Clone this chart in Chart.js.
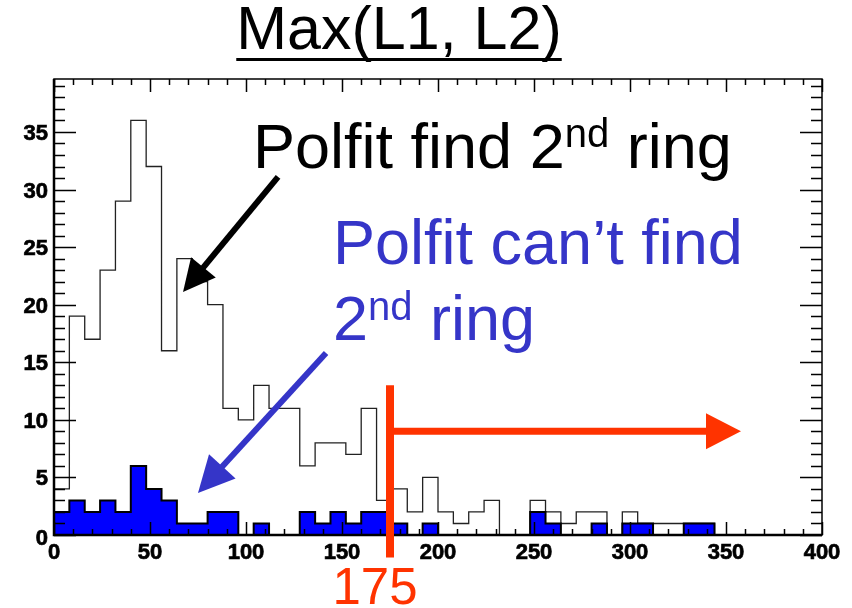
<!DOCTYPE html>
<html>
<head>
<meta charset="utf-8">
<title>Max(L1, L2)</title>
<script src="https://cdn.jsdelivr.net/npm/chart.js@4.4.1/dist/chart.umd.min.js"></script>
<style>
  html, body { margin: 0; padding: 0; background: #fff; }
  #wrap { width: 852px; height: 608px; }
</style>
</head>
<body>
<div id="wrap"><canvas id="hist" width="852" height="608"></canvas></div>
<script>
// 50 bins of width 8 between 0 and 400
const binWidth = 8;
const nBins = 50;

// all events (open histogram)
const allCounts = [4, 19, 17, 23, 29, 36, 32, 16, 24, 22,
                   20, 11, 10, 13, 11, 11, 6, 8, 8, 7,
                   11, 3, 4, 2, 5, 2, 1, 2, 3, 0,
                   0, 3, 2, 1, 2, 2, 0, 2, 1, 1,
                   1, 1, 1, 0, 0, 0, 0, 0, 0, 0];

// events where Polfit can't find the 2nd ring (blue filled)
const failCounts = [2, 3, 2, 3, 2, 6, 4, 3, 1, 1,
                    2, 2, 0, 1, 0, 0, 2, 1, 2, 1,
                    2, 2, 1, 0, 1, 0, 0, 0, 0, 0,
                    0, 2, 1, 0, 0, 1, 0, 1, 1, 0,
                    0, 1, 1, 0, 0, 0, 0, 0, 0, 0];

const xTickLabels = [0, 50, 100, 150, 200, 250, 300, 350, 400];
const yTickLabels = [0, 5, 10, 15, 20, 25, 30, 35];
const yMax = 39.6;
const cutValue = 175;

const FONT = '"Liberation Sans", Arial, Helvetica, sans-serif';
const BLUE_TEXT = '#3535c8';
const RED = '#ff3300';

// turn bin counts into points for a stepped outline
function stepPoints(counts) {
  const pts = counts.map((c, i) => ({ x: i * binWidth, y: c }));
  pts.push({ x: nBins * binWidth, y: counts[nBins - 1] });
  return pts;
}

function drawArrow(ctx, x1, y1, x2, y2, width, headLen, headHalf, color) {
  const ang = Math.atan2(y2 - y1, x2 - x1);
  const bx = x2 - headLen * Math.cos(ang);
  const by = y2 - headLen * Math.sin(ang);
  ctx.strokeStyle = color;
  ctx.fillStyle = color;
  ctx.lineWidth = width;
  ctx.lineCap = 'butt';
  ctx.beginPath();
  ctx.moveTo(x1, y1);
  ctx.lineTo(bx + Math.cos(ang), by + Math.sin(ang));
  ctx.stroke();
  ctx.beginPath();
  ctx.moveTo(x2, y2);
  ctx.lineTo(bx + headHalf * Math.sin(ang), by - headHalf * Math.cos(ang));
  ctx.lineTo(bx - headHalf * Math.sin(ang), by + headHalf * Math.cos(ang));
  ctx.closePath();
  ctx.fill();
}

// text with a superscript piece, e.g. 2^nd
function drawParts(ctx, parts, x, y, color) {
  ctx.fillStyle = color;
  ctx.textAlign = 'left';
  ctx.textBaseline = 'alphabetic';
  let cx = x;
  parts.forEach(p => {
    ctx.font = p.size + 'px ' + FONT;
    ctx.fillText(p.t, cx, y + (p.dy || 0));
    cx += ctx.measureText(p.t).width;
  });
}

// ROOT style frame, inner ticks and labels
const rootFrame = {
  id: 'rootFrame',
  afterDatasetsDraw(chart) {
    const { ctx, chartArea: a, scales: { x, y } } = chart;
    ctx.save();
    ctx.strokeStyle = '#000';
    ctx.lineWidth = 1.5;
    ctx.beginPath();
    for (let v = 0; v < yMax; v++) {
      const py = Math.round(y.getPixelForValue(v)) + 0.5;
      const len = v % 5 === 0 ? 22 : 11;
      ctx.moveTo(a.left, py); ctx.lineTo(a.left + len, py);
      ctx.moveTo(a.right, py); ctx.lineTo(a.right - len, py);
    }
    for (let v = 0; v <= 400; v += 10) {
      const px = Math.round(x.getPixelForValue(v)) + 0.5;
      const len = v % 50 === 0 ? 13 : 6;
      ctx.moveTo(px, a.bottom); ctx.lineTo(px, a.bottom - len);
      ctx.moveTo(px, a.top); ctx.lineTo(px, a.top + len);
    }
    ctx.stroke();

    // frame
    ctx.lineWidth = 1.5;
    ctx.strokeRect(a.left, a.top, a.right - a.left, a.bottom - a.top);
    ctx.lineWidth = 2.5;
    ctx.beginPath();
    ctx.moveTo(a.left, a.top); ctx.lineTo(a.left, a.bottom); ctx.lineTo(a.right, a.bottom);
    ctx.stroke();

    // tick labels (a thin stroke makes them as heavy as the ROOT bold face)
    ctx.fillStyle = '#000';
    ctx.strokeStyle = '#000';
    ctx.lineWidth = 0.7;
    ctx.font = 'bold 22px ' + FONT;
    ctx.textBaseline = 'alphabetic';
    ctx.textAlign = 'right';
    yTickLabels.forEach(v => {
      const py = y.getPixelForValue(v) + 8 + (v === 0 ? 2 : 0);
      ctx.fillText(String(v), a.left - 6, py);
      ctx.strokeText(String(v), a.left - 6, py);
    });
    ctx.textAlign = 'center';
    xTickLabels.forEach(v => {
      ctx.fillText(String(v), x.getPixelForValue(v), a.bottom + 24);
      ctx.strokeText(String(v), x.getPixelForValue(v), a.bottom + 24);
    });
    ctx.restore();
  },
  afterDraw(chart) {
    const { ctx, scales: { x, y } } = chart;
    ctx.save();

    // title with underline
    ctx.font = '61px ' + FONT;
    ctx.fillStyle = '#000';
    ctx.textAlign = 'left';
    ctx.textBaseline = 'alphabetic';
    const title = 'Max(L1, L2)';
    const tw = ctx.measureText(title).width;
    const tx = 399 - tw / 2;
    ctx.fillText(title, tx, 49);
    ctx.fillRect(tx, 58, tw, 3);

    // black annotation
    drawParts(ctx, [
      { t: 'Polfit find 2', size: 63 },
      { t: 'nd', size: 40, dy: -21 },
      { t: ' ring', size: 63 }
    ], 253, 168, '#000');
    drawArrow(ctx, x.getPixelForValue(116.7), y.getPixelForValue(31.1),
              x.getPixelForValue(67.2), y.getPixelForValue(21.1), 6, 32, 16, '#000');

    // blue annotation
    drawParts(ctx, [{ t: 'Polfit can\u2019t find', size: 63 }], 333, 264, BLUE_TEXT);
    drawParts(ctx, [
      { t: '2', size: 63 },
      { t: 'nd', size: 40, dy: -20 },
      { t: ' ring', size: 63 }
    ], 333, 340, BLUE_TEXT);
    drawArrow(ctx, x.getPixelForValue(141.7), y.getPixelForValue(15.8),
              x.getPixelForValue(75), y.getPixelForValue(3.65), 6, 36, 18, BLUE_TEXT);

    // cut marker at 175
    const cx = x.getPixelForValue(cutValue);
    ctx.strokeStyle = RED;
    ctx.lineWidth = 8;
    ctx.beginPath();
    ctx.moveTo(cx, y.getPixelForValue(13));
    ctx.lineTo(cx, y.getPixelForValue(-1.95));
    ctx.stroke();
    drawArrow(ctx, cx, y.getPixelForValue(9), x.getPixelForValue(357.8), y.getPixelForValue(9),
              7, 35, 18, RED);
    ctx.font = '51px ' + FONT;
    ctx.fillStyle = RED;
    ctx.textAlign = 'center';
    ctx.fillText(String(cutValue), cx - 15, 604);

    ctx.restore();
  }
};

new Chart(document.getElementById('hist'), {
  type: 'line',
  data: {
    datasets: [
      {
        label: "Polfit can't find 2nd ring",
        data: stepPoints(failCounts),
        stepped: true,
        fill: 'origin',
        backgroundColor: '#0000ff',
        borderColor: '#000',
        borderWidth: 2,
        pointRadius: 0,
        order: 0
      },
      {
        label: 'all',
        data: stepPoints(allCounts),
        stepped: true,
        fill: false,
        borderColor: '#222',
        borderWidth: 1.3,
        pointRadius: 0,
        order: 1
      }
    ]
  },
  options: {
    responsive: false,
    animation: false,
    devicePixelRatio: 1,
    layout: { padding: { left: 54, right: 30, top: 79, bottom: 73 } },
    plugins: {
      legend: { display: false },
      tooltip: { enabled: false },
      title: { display: false }
    },
    scales: {
      x: { type: 'linear', min: 0, max: 400, display: false },
      y: { type: 'linear', min: 0, max: yMax, display: false }
    }
  },
  plugins: [rootFrame]
});
</script>
</body>
</html>
